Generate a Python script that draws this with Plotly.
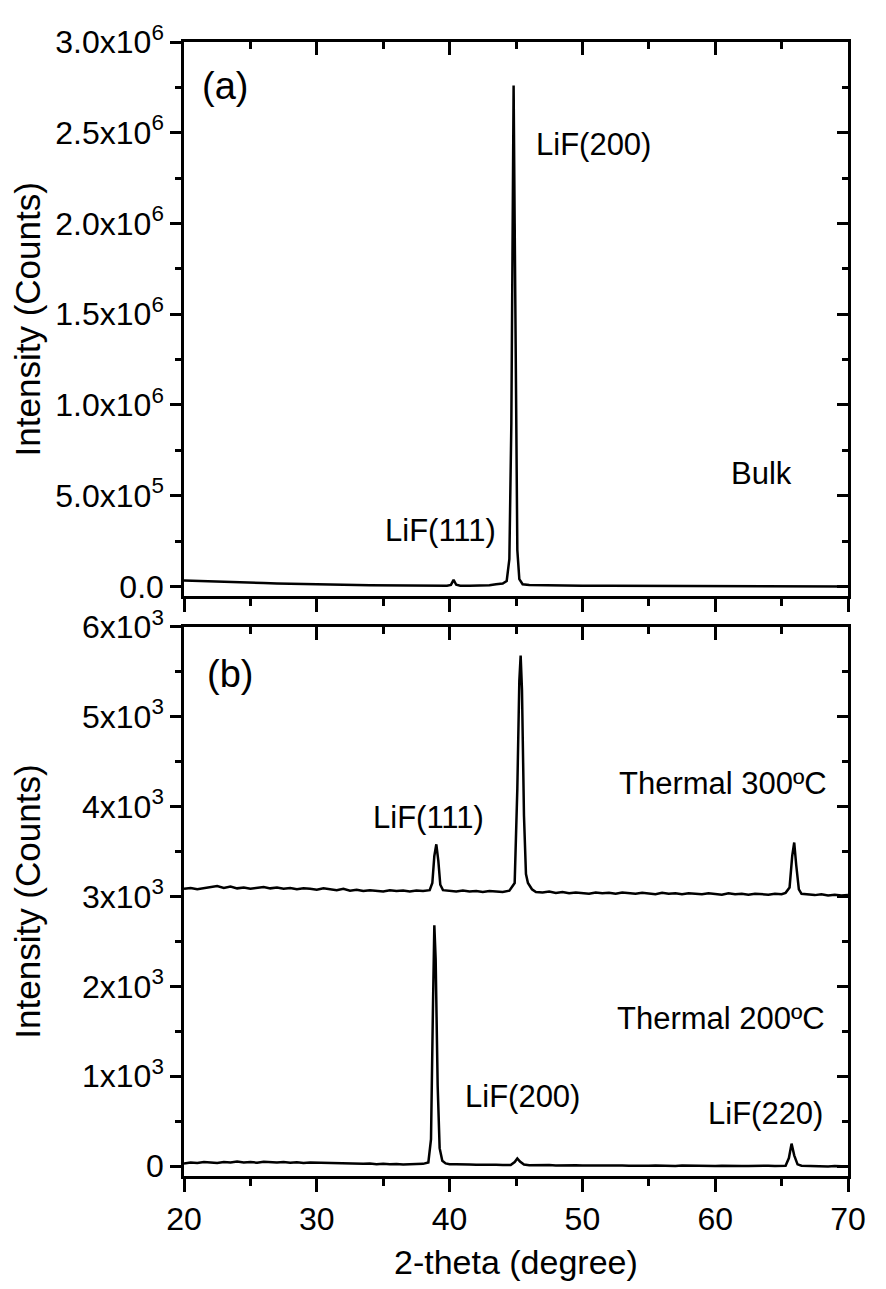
import plotly.graph_objects as go

# ---------------- data ----------------
# (a) Bulk
bulk_x = [20.0, 20.5, 21.0, 21.5, 22.0, 22.5, 23.0, 23.5, 24.0, 25.0, 26.0, 27.0, 28.0, 29.0,
          30.0, 31.0, 32.0, 33.0, 34.0, 35.0, 36.0, 37.0, 38.0, 39.0, 39.8, 40.1, 40.3, 40.5,
          40.8, 41.5, 42.5, 43.0, 43.5, 44.0, 44.3, 44.5, 44.65, 44.75, 44.82, 44.9, 45.0,
          45.1, 45.25, 45.5, 46.0, 47.0, 48.0, 50.0, 52.0, 55.0, 58.0, 60.0, 62.0, 65.0,
          68.0, 70.0]
bulk_y = [33000, 32000, 30000, 29000, 30000, 28000, 29000, 26000, 24000, 21000, 19000, 16000,
          14000, 12000, 10500, 9000, 8000, 7000, 6000, 5000, 4500, 4000, 3500, 3500, 3500,
          8000, 36000, 9000, 3500, 3500, 4000, 6000, 12000, 16000, 30000, 150000, 900000,
          2000000, 2760000, 2000000, 800000, 200000, 40000, 12000, 8000, 6000, 5000, 4000,
          3500, 3000, 2500, 2000, 1500, 1000, 500, 0]

# (b) Thermal 300 ºC
t300_x = [20.0, 20.5, 21.0, 21.5, 22.0, 22.5, 23.0, 23.5, 24.0, 24.5, 25.0, 25.5, 26.0, 26.5,
          27.0, 27.5, 28.0, 28.5, 29.0, 29.5, 30.0, 30.5, 31.0, 31.5, 32.0, 32.5, 33.0, 33.5,
          34.0, 34.5, 35.0, 35.5, 36.0, 36.5, 37.0, 37.5, 38.0, 38.5, 38.7, 38.85, 39.0,
          39.15, 39.3, 39.5, 40.0, 40.5, 41.0, 41.5, 42.0, 42.5, 43.0, 43.5, 44.0, 44.5,
          44.9, 45.1, 45.25, 45.35, 45.45, 45.6, 45.75, 45.9, 46.2, 46.5, 47.0, 47.5, 48.0,
          48.5, 49.0, 49.5, 50.0, 50.5, 51.0, 51.5, 52.0, 52.5, 53.0, 53.5, 54.0, 54.5, 55.0,
          55.5, 56.0, 56.5, 57.0, 57.5, 58.0, 58.5, 59.0, 59.5, 60.0, 60.5, 61.0, 61.5, 62.0,
          62.5, 63.0, 63.5, 64.0, 64.5, 65.0, 65.3, 65.6, 65.8, 65.95, 66.1, 66.3, 66.5,
          67.0, 67.5, 68.0, 68.5, 69.0, 69.5, 70.0]
t300_y = [3085, 3095, 3080, 3090, 3100, 3115, 3095, 3110, 3090, 3100, 3085, 3095, 3105, 3090,
          3100, 3085, 3095, 3080, 3090, 3085, 3075, 3090, 3080, 3070, 3085, 3065, 3075, 3060,
          3070, 3065, 3055, 3070, 3060, 3065, 3055, 3065, 3060, 3070, 3150, 3450, 3580,
          3400, 3130, 3070, 3060, 3055, 3065, 3055, 3060, 3050, 3060, 3055, 3050, 3065,
          3150, 4200, 5400, 5680, 5300, 3900, 3250, 3150, 3080, 3050, 3045, 3055, 3040,
          3050, 3035, 3045, 3040, 3030, 3045, 3035, 3040, 3030, 3045, 3035, 3030, 3040, 3035,
          3025, 3040, 3030, 3035, 3025, 3035, 3030, 3025, 3035, 3030, 3020, 3035, 3025, 3030,
          3020, 3030, 3025, 3020, 3030, 3025, 3040, 3100, 3450, 3600, 3350, 3080, 3030,
          3020, 3015, 3025, 3010, 3020, 3010, 3015]

# (b) Thermal 200 ºC
t200_x = [20.0, 20.5, 21.0, 21.5, 22.0, 22.5, 23.0, 23.5, 24.0, 24.5, 25.0, 25.5, 26.0, 26.5,
          27.0, 27.5, 28.0, 28.5, 29.0, 29.5, 30.0, 30.5, 31.0, 31.5, 32.0, 32.5, 33.0, 33.5,
          34.0, 34.5, 35.0, 35.5, 36.0, 36.5, 37.0, 37.5, 38.0, 38.4, 38.6, 38.75, 38.85,
          38.95, 39.1, 39.25, 39.45, 39.7, 40.0, 40.5, 41.0, 41.5, 42.0, 42.5, 43.0, 43.5,
          44.0, 44.6, 44.9, 45.1, 45.3, 45.6, 46.0, 46.5, 47.0, 47.5, 48.0, 48.5, 49.0, 49.5,
          50.0, 50.5, 51.0, 51.5, 52.0, 52.5, 53.0, 53.5, 54.0, 54.5, 55.0, 55.5, 56.0, 56.5,
          57.0, 57.5, 58.0, 58.5, 59.0, 59.5, 60.0, 60.5, 61.0, 61.5, 62.0, 62.5, 63.0, 63.5,
          64.0, 64.5, 65.0, 65.3, 65.55, 65.75, 65.95, 66.2, 66.5, 67.0, 67.5, 68.0, 68.5,
          69.0, 69.5, 70.0]
t200_y = [30, 40, 35, 45, 40, 35, 45, 40, 50, 40, 45, 38, 48, 42,
          40, 45, 38, 42, 35, 40, 38, 32, 36, 30, 34, 28, 30, 25,
          28, 22, 25, 20, 24, 18, 22, 20, 25, 40, 300, 1800, 2680,
          2300, 900, 200, 60, 30, 22, 20, 15, 18, 14, 16, 12, 15,
          13, 12, 45, 85, 50, 18, 10, 12, 8, 11, 7, 10, 6, 9,
          8, 5, 9, 6, 8, 4, 7, 5, 3, 6, 4, 7, 3, 5,
          2, 6, 4, 1, 5, 3, 2, 4, 1, 3, 0, 2, 4, 1,
          3, 0, 2, 5, 90, 250, 120, 20, 5, 2, -2, 1, -3,
          0, -4, -5]

# tick labels
top_tickvals = [0, 500000, 1000000, 1500000, 2000000, 2500000, 3000000]
top_ticktext = ["0.0", "5.0x10<sup>5</sup>", "1.0x10<sup>6</sup>", "1.5x10<sup>6</sup>",
                "2.0x10<sup>6</sup>", "2.5x10<sup>6</sup>", "3.0x10<sup>6</sup>"]
top_minor = [250000, 750000, 1250000, 1750000, 2250000, 2750000]
bot_tickvals = [0, 1000, 2000, 3000, 4000, 5000, 6000]
bot_ticktext = ["0", "1x10<sup>3</sup>", "2x10<sup>3</sup>", "3x10<sup>3</sup>",
                "4x10<sup>3</sup>", "5x10<sup>3</sup>", "6x10<sup>3</sup>"]
bot_minor = [500, 1500, 2500, 3500, 4500, 5500]
x_tickvals = [20, 30, 40, 50, 60, 70]
x_minor = [25, 35, 45, 55, 65]

# ---------------- figure ----------------
FONT = "Liberation Sans, Arial, sans-serif"
LW = 2.5
line = dict(color="black", width=2.5)

fig = go.Figure()
fig.add_trace(go.Scatter(x=bulk_x, y=bulk_y, mode="lines", line=line, xaxis="x", yaxis="y",
                         showlegend=False, hoverinfo="skip"))
fig.add_trace(go.Scatter(x=t300_x, y=t300_y, mode="lines", line=line, xaxis="x2", yaxis="y2",
                         showlegend=False, hoverinfo="skip"))
fig.add_trace(go.Scatter(x=t200_x, y=t200_y, mode="lines", line=line, xaxis="x2", yaxis="y2",
                         showlegend=False, hoverinfo="skip"))
# invisible helpers so that the mirrored (opposite-side) axes are drawn
ghost = dict(mode="lines", line=dict(width=0, color="rgba(0,0,0,0)"), showlegend=False,
             hoverinfo="skip")
fig.add_trace(go.Scatter(x=bulk_x, y=bulk_y, xaxis="x3", yaxis="y", **ghost))
fig.add_trace(go.Scatter(x=bulk_x, y=bulk_y, xaxis="x", yaxis="y3", **ghost))
fig.add_trace(go.Scatter(x=t200_x, y=t200_y, xaxis="x4", yaxis="y2", **ghost))
fig.add_trace(go.Scatter(x=t200_x, y=t200_y, xaxis="x2", yaxis="y4", **ghost))

top_dom = [0.5113, 1.0]
bot_dom = [0.0, 0.4843]
ytickfont = dict(family=FONT, size=32, color="black")
xtickfont = dict(family=FONT, size=32, color="black")

def xax(anchor, ticks, labels, side="bottom", overlaying=None):
    d = dict(anchor=anchor, domain=[0, 1], range=[20, 70], showline=True, linewidth=LW,
             linecolor="black", ticks=ticks, ticklen=13, tickwidth=LW, tickcolor="black",
             tickmode="array", tickvals=x_tickvals, showticklabels=labels, showgrid=False,
             zeroline=False, side=side, tickfont=xtickfont, fixedrange=True,
             minor=dict(ticks=ticks, ticklen=7, tickwidth=LW, tickcolor="black",
                        tickmode="array", tickvals=x_minor, showgrid=False))
    if overlaying:
        d["overlaying"] = overlaying
    return d

def yax(anchor, dom, rng, tv, tt, mv, ticks, labels, side="left", overlaying=None):
    d = dict(anchor=anchor, domain=dom, range=rng, showline=True, linewidth=LW,
             linecolor="black", ticks=ticks, ticklen=11, tickwidth=LW, tickcolor="black",
             tickmode="array", tickvals=tv, ticktext=tt, showticklabels=labels,
             showgrid=False, zeroline=False, side=side, tickfont=ytickfont, fixedrange=True,
             minor=dict(ticks=ticks, ticklen=6, tickwidth=LW, tickcolor="black",
                        tickmode="array", tickvals=mv, showgrid=False))
    if overlaying:
        d["overlaying"] = overlaying
    return d

# the page body adds an 8 px margin, so the figure is drawn 8 px smaller on each side
fig.update_layout(
    width=870, height=1273,
    margin=dict(l=176, r=18, t=20, b=105),
    paper_bgcolor="white", plot_bgcolor="white",
    font=dict(family=FONT, color="black"),
    xaxis=xax("y", "outside", False),
    xaxis3=xax("y", "inside", False, side="top", overlaying="x"),
    xaxis2=xax("y2", "outside", True),
    xaxis4=xax("y2", "inside", False, side="top", overlaying="x2"),
    yaxis=yax("x", top_dom, [-54000, 3000000], top_tickvals, top_ticktext, top_minor,
              "outside", True),
    yaxis3=yax("x", top_dom, [-54000, 3000000], top_tickvals, top_ticktext, top_minor,
               "inside", False, side="right", overlaying="y"),
    yaxis2=yax("x2", bot_dom, [-110, 6000], bot_tickvals, bot_ticktext, bot_minor,
               "outside", True),
    yaxis4=yax("x2", bot_dom, [-110, 6000], bot_tickvals, bot_ticktext, bot_minor,
               "inside", False, side="right", overlaying="y2"),
)

ann_font = dict(family=FONT, size=31, color="black")
panel_font = dict(family=FONT, size=38, color="black")
ytitle_font = dict(family=FONT, size=35, color="black")
xtitle_font = dict(family=FONT, size=34, color="black")
anns = [
    dict(text="(a)", x=23.1, y=2760000, xref="x", yref="y", font=panel_font),
    dict(text="LiF(200)", x=50.8, y=2433000, xref="x", yref="y", font=ann_font),
    dict(text="LiF(111)", x=39.3, y=310000, xref="x", yref="y", font=ann_font),
    dict(text="Bulk", x=63.5, y=620000, xref="x", yref="y", font=ann_font),
    dict(text="(b)", x=23.5, y=5480, xref="x2", yref="y2", font=panel_font),
    dict(text="LiF(111)", x=38.4, y=3880, xref="x2", yref="y2", font=ann_font),
    dict(text="Thermal 300ºC", x=60.6, y=4260, xref="x2", yref="y2", font=ann_font),
    dict(text="Thermal 200ºC", x=60.4, y=1640, xref="x2", yref="y2", font=ann_font),
    dict(text="LiF(200)", x=45.5, y=780, xref="x2", yref="y2", font=ann_font),
    dict(text="LiF(220)", x=63.8, y=590, xref="x2", yref="y2", font=ann_font),
    # axis titles
    dict(text="Intensity (Counts)", x=-0.236, y=(top_dom[0] + top_dom[1]) / 2,
         xref="paper", yref="paper", textangle=-90, font=ytitle_font),
    dict(text="Intensity (Counts)", x=-0.236, y=(bot_dom[0] + bot_dom[1]) / 2,
         xref="paper", yref="paper", textangle=-90, font=ytitle_font),
    dict(text="2-theta (degree)", x=0.5, y=-0.076, xref="paper", yref="paper",
         font=xtitle_font),
]
for a in anns:
    a.update(showarrow=False, xanchor="center", yanchor="middle")
fig.update_layout(annotations=anns)

fig.write_html("out.html")
